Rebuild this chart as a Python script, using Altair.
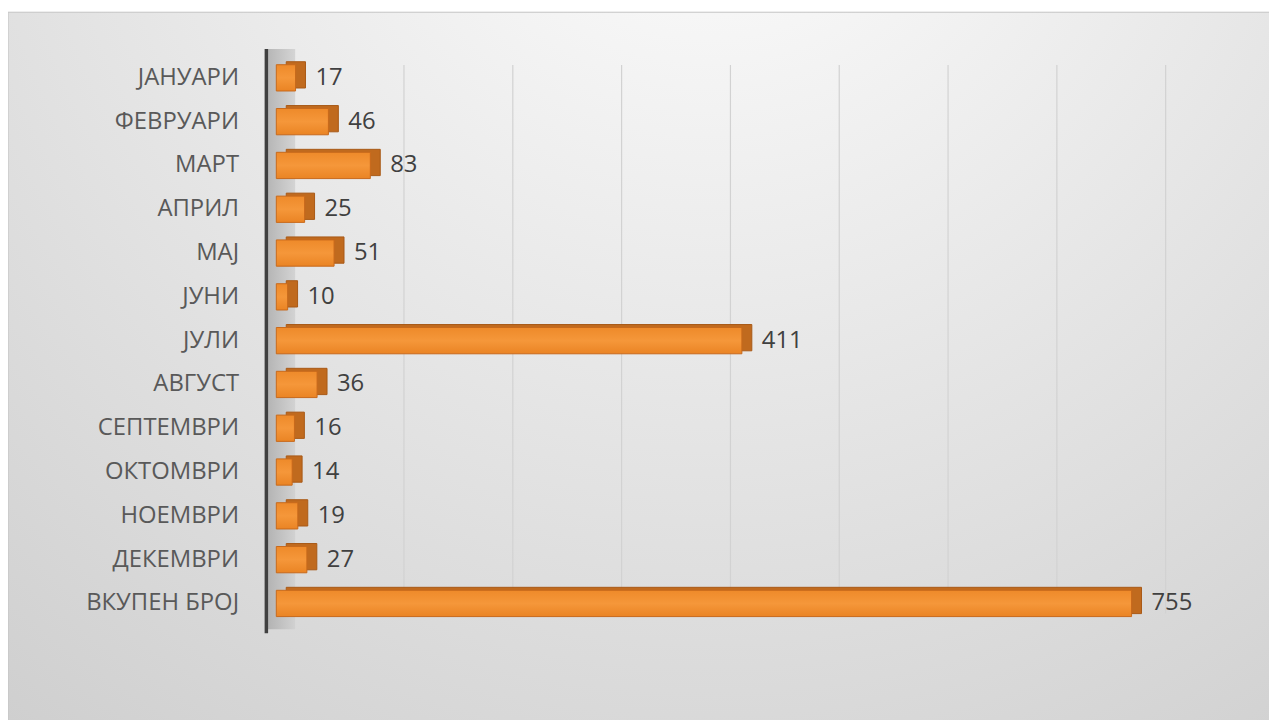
import altair as alt
import pandas as pd

months = ["ЈАНУАРИ", "ФЕВРУАРИ", "МАРТ", "АПРИЛ", "МАЈ", "ЈУНИ", "ЈУЛИ",
          "АВГУСТ", "СЕПТЕМВРИ", "ОКТОМВРИ", "НОЕМВРИ", "ДЕКЕМВРИ", "ВКУПЕН БРОЈ"]
counts = [17, 46, 83, 25, 51, 10, 411, 36, 16, 14, 19, 27, 755]
grid_values = [100, 200, 300, 400, 500, 600, 700, 800]

df = pd.DataFrame({"month": months, "count": counts})
grid_df = pd.DataFrame({"g": grid_values})
one = pd.DataFrame({"a": [0]})

W, H = 912, 573
FONT = "Open Sans"

y_enc = alt.Y("month:N", sort=months,
              scale=alt.Scale(paddingInner=0.4, paddingOuter=0.2),
              axis=alt.Axis(title=None, domain=False, ticks=False, grid=False,
                            labelPadding=38, labelFontSize=24, labelColor="#595959",
                            labelFont=FONT, zindex=2))
x_scale = alt.Scale(domain=[0, 800], nice=False, zero=True)

bg = alt.Chart(one).mark_rect(
    color=alt.RadialGradient(gradient="radial", x1=0.55, y1=0.05, r1=0.0,
                             x2=0.55, y2=0.05, r2=0.95,
                             stops=[alt.GradientStop(offset=0, color="#ffffff"),
                                    alt.GradientStop(offset=1, color="#cdcdcd")]),
    stroke="#c4c4c4", strokeWidth=1
).encode(x=alt.value(-270), x2=alt.value(W + 100), y=alt.value(-44), y2=alt.value(H + 100))

wall = alt.Chart(one).mark_rect(
    color=alt.LinearGradient(gradient="linear", x1=0, y1=0, x2=1, y2=0,
                             stops=[alt.GradientStop(offset=0, color="#a9a9a9"),
                                    alt.GradientStop(offset=1, color="#cfcfcf")]),
    opacity=0.8
).encode(x=alt.value(-9), x2=alt.value(19), y=alt.value(-7), y2=alt.value(H + 4))

grid = alt.Chart(grid_df).mark_rule(color="#d2d2d2", strokeWidth=1.2).encode(
    x=alt.X("g:Q", scale=alt.Scale(domain=[-17.35, 815.5], nice=False, zero=False), axis=None),
    y=alt.value(9), y2=alt.value(H - 12)
)

axis_line = alt.Chart(one).mark_rule(color="#404040", strokeWidth=3.5).encode(
    x=alt.value(-10), y=alt.value(-7), y2=alt.value(H + 8)
)

base = alt.Chart(df)
back = base.mark_bar(color="#c06a1e", stroke="#a85a17", strokeWidth=1,
                     xOffset=10, yOffset=-3).encode(
    x=alt.X("count:Q", scale=x_scale, axis=None), y=y_enc
)
front = base.mark_bar(
    color=alt.LinearGradient(gradient="linear", x1=0, y1=0, x2=0, y2=1,
                             stops=[alt.GradientStop(offset=0, color="#ee8a2a"),
                                    alt.GradientStop(offset=0.5, color="#f5973a"),
                                    alt.GradientStop(offset=1, color="#ea8424")]),
    stroke="#c8691b", strokeWidth=1
).encode(
    x=alt.X("count:Q", scale=x_scale, axis=None), y=y_enc
)
labels = base.mark_text(align="left", baseline="middle", dx=20, fontSize=24,
                        color="#404040", font=FONT).encode(
    x=alt.X("count:Q", scale=x_scale, axis=None), y=y_enc, text="count:Q"
)

bars = alt.layer(back, front, labels)

chart = alt.layer(bg, wall, grid, axis_line, bars).resolve_scale(x="independent").properties(
    width=W, height=H,
    autosize=alt.AutoSizeParams(type="none"),
    padding={"left": 270, "top": 46, "right": 1269 - 270 - W, "bottom": 712 - 46 - H},
    background="#ffffff"
).configure_view(stroke=None)

chart.save("out.html", embed_options={"renderer": "svg", "actions": False})
